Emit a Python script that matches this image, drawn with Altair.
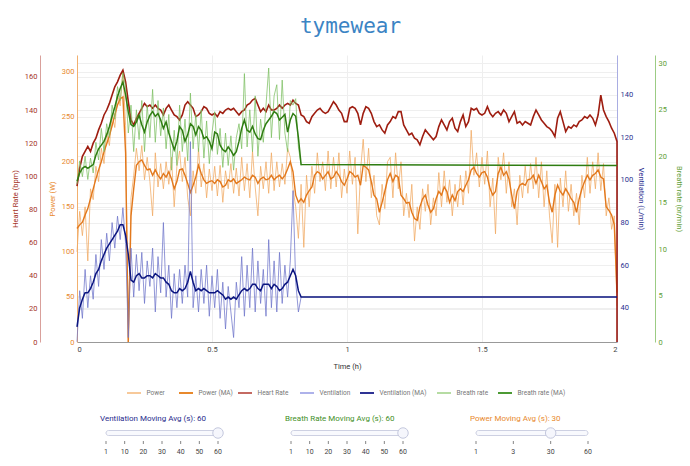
import altair as alt
import pandas as pd

# ---------------- data ----------------
T = [round(i * 0.01, 2) for i in range(201)]  # time grid in hours

power_raw = [100, 145, 118, 150, 90, 170, 158, 195, 178, 215,
             198, 232, 218, 252, 238, 275, 262, 302, 240, 0,
             160, 185, 215, 190, 218, 180, 205, 178, 140, 210,
             172, 198, 170, 200, 175, 205, 150, 195, 212, 178,
             205, 160, 140, 190, 165, 215, 172, 198, 160, 192,
             168, 195, 162, 196, 155, 190, 170, 198, 165, 193,
             162, 205, 168, 198, 160, 212, 172, 140, 195, 170,
             200, 165, 210, 168, 200, 172, 198, 175, 215, 205,
             170, 150, 115, 175, 105, 185, 150, 195, 165, 210,
             178, 200, 168, 212, 170, 205, 172, 210, 160, 192,
             165, 212, 175, 205, 120, 190, 225, 178, 215, 160,
             185, 140, 130, 175, 148, 200, 205, 160, 210, 170,
             200, 140, 165, 138, 175, 112, 150, 125, 170, 145,
             175, 130, 160, 140, 188, 150, 190, 155, 180, 140,
             175, 150, 185, 152, 190, 165, 235, 185, 210, 172,
             205, 175, 212, 150, 182, 120, 205, 180, 210, 165,
             200, 150, 170, 130, 185, 160, 195, 165, 198, 170,
             205, 160, 200, 150, 190, 140, 110, 175, 105, 182,
             150, 190, 145, 175, 140, 165, 130, 185, 160, 205,
             165, 200, 170, 210, 168, 198, 140, 160, 125, 140,
             40]

power_ma = [126, 130, 133, 141, 148, 159, 170, 181, 191, 200,
            211, 220, 229, 240, 252, 263, 270, 272, 210, 0,
            140, 170, 196, 200, 202, 196, 191, 192, 185, 191,
            185, 181, 187, 183, 189, 181, 170, 178, 191, 192,
            185, 176, 166, 174, 183, 196, 187, 180, 176, 178,
            179, 176, 180, 178, 172, 174, 180, 178, 181, 176,
            178, 180, 183, 181, 180, 185, 183, 176, 181, 183,
            180, 181, 185, 180, 183, 185, 181, 185, 192, 200,
            189, 163, 155, 159, 155, 163, 168, 172, 185, 189,
            187, 181, 185, 189, 181, 183, 189, 185, 178, 174,
            181, 189, 187, 183, 185, 174, 196, 194, 191, 178,
            163, 159, 144, 155, 167, 180, 187, 178, 185, 183,
            163, 159, 154, 155, 144, 137, 135, 150, 159, 163,
            152, 144, 148, 159, 167, 163, 172, 167, 155, 163,
            157, 167, 170, 167, 174, 180, 191, 194, 187, 183,
            188, 189, 183, 170, 163, 167, 187, 194, 185, 189,
            181, 163, 148, 167, 174, 176, 174, 180, 181, 185,
            176, 185, 178, 170, 174, 155, 144, 163, 174, 167,
            163, 170, 165, 159, 155, 144, 159, 170, 178, 185,
            180, 185, 187, 191, 183, 181, 150, 146, 141, 130,
            55]

heart_rate = [94, 105, 112, 115, 118, 115, 120, 123, 128, 132,
              137, 140, 144, 149, 154, 157, 161, 164, 157, 145,
              134, 131, 135, 138, 141, 144, 142, 143, 141, 143,
              141, 140, 137, 141, 143, 140, 137, 136, 134, 137,
              143, 145, 143, 141, 136, 137, 139, 142, 141, 138,
              137, 138, 136, 139, 138, 140, 141, 140, 141, 139,
              137, 139, 140, 143, 144, 146, 147, 143, 139, 141,
              139, 143, 140, 140, 141, 143, 141, 143, 144, 143,
              146, 144, 143, 137, 136, 133, 132, 136, 138, 140,
              141, 139, 138, 139, 142, 145, 143, 140, 138, 133,
              133, 141, 142, 141, 138, 131, 138, 142, 141, 138,
              133, 130, 131, 128, 126, 131, 133, 136, 135, 139,
              139, 131, 128, 125, 126, 123, 122, 119, 124, 128,
              126, 124, 122, 124, 130, 134, 131, 128, 133, 135,
              129, 127, 133, 137, 130, 133, 141, 140, 141, 138,
              137, 138, 142, 138, 136, 138, 139, 137, 140, 138,
              133, 136, 139, 132, 133, 131, 133, 132, 131, 136,
              140, 137, 134, 132, 130, 129, 127, 124, 135, 139,
              133, 127, 130, 129, 131, 130, 133, 134, 136, 135,
              137, 135, 131, 137, 149, 140, 136, 133, 129, 126,
              121, 0]

vent_raw = [24, 48, 35, 58, 40, 55, 44, 65, 50, 72,
            58, 75, 62, 80, 68, 83, 72, 87, 70, 26,
            68, 45, 65, 48, 66, 42, 62, 50, 68, 38,
            64, 47, 80, 45, 60, 35, 56, 40, 58, 42,
            60, 45, 118, 40, 55, 38, 58, 42, 60, 36,
            55, 40, 58, 35, 52, 30, 50, 38, 26, 52,
            40, 64, 36, 60, 40, 68, 38, 62, 42, 58,
            36, 72, 40, 62, 38, 66, 42, 60, 45, 62,
            95, 52, 38, 45]

vent_ma = [31, 40, 44, 47, 47, 49, 52, 56, 58, 62,
           65, 68, 70, 72, 74, 76, 79, 79, 74, 65,
           53, 52, 55, 56, 54, 54, 55, 55, 54, 56,
           55, 54, 54, 52, 51, 48, 47, 47, 49, 48,
           49, 52, 57, 52, 48, 49, 48, 49, 48, 47,
           47, 47, 48, 47, 46, 44, 45, 44, 45, 44,
           46, 48, 49, 48, 49, 51, 51, 49, 48, 51,
           51, 51, 49, 51, 50, 48, 49, 51, 52, 55,
           58, 55, 48, 45, 45]

breath_raw = [17.0, 19.5, 17.8, 20.0, 17.5, 19.8, 18.2, 21.5, 19.6, 23.0,
              20.5, 23.5, 22.0, 25.5, 24.0, 27.5, 26.0, 29.0, 27.5, 22.5,
              25.5, 20.5, 25.0, 21.8, 26.0, 20.5, 25.5, 22.0, 27.2, 21.5,
              26.0, 22.2, 25.2, 20.8, 24.5, 18.5, 22.8, 19.0, 25.5, 20.5,
              24.0, 19.5, 26.8, 20.8, 24.5, 20.5, 25.0, 19.8, 23.8, 19.2,
              22.5, 24.8, 20.2, 23.0, 18.8, 22.5, 19.0, 22.2, 18.5, 22.0,
              23.5, 20.8, 28.9, 21.0, 25.0, 20.5, 26.5, 20.0, 24.0, 21.5,
              25.5, 29.5, 22.0, 26.5, 27.7, 21.8, 28.2, 22.5, 20.5, 26.0,
              25.5, 26.2, 21.0, 19.0]

breath_ma = [17.3, 18.2, 18.7, 18.9, 18.7, 18.9, 19.1, 20.1, 20.8, 21.2,
             21.6, 22.3, 23.2, 24.3, 25.3, 26.4, 27.3, 28.0, 26.6, 24.8,
             23.4, 23.2, 23.7, 24.4, 23.4, 22.6, 23.7, 24.4, 24.8, 24.3,
             24.6, 23.9, 23.0, 23.7, 22.5, 21.6, 20.7, 21.6, 23.2, 22.8,
             21.6, 22.3, 23.5, 23.2, 22.3, 23.2, 22.8, 21.9, 22.1, 21.6,
             20.8, 22.6, 22.4, 21.2, 20.7, 20.5, 21.0, 20.6, 20.1, 20.5,
             21.6, 23.0, 23.9, 22.8, 22.6, 23.2, 22.4, 21.9, 21.8, 22.8,
             23.5, 23.9, 24.3, 24.8, 24.6, 23.9, 24.2, 24.5, 22.6, 23.9,
             24.6, 24.3, 22.0, 19.1, 19.0]

legend_names = ["Power", "Power (MA)", "Heart Rate", "Ventilation",
                "Ventilation (MA)", "Breath rate", "Breath rate (MA)"]
legend_colors = ["#f7c99a", "#e8892c", "#c46a62", "#aeb2ea",
                 "#2e3294", "#b6dca3", "#4c9a34"]

power_ticks = [0, 50, 100, 150, 200, 250, 300]
hr_ticks = [0, 20, 40, 60, 80, 100, 120, 140, 160]
vent_ticks = [40, 60, 80, 100, 120, 140]
breath_ticks = [0, 5, 10, 15, 20, 25, 30]
time_ticks = [0, 0.5, 1, 1.5, 2]

slider_titles = ["Ventilation Moving Avg (s): 60", "Breath Rate Moving Avg (s): 60",
                 "Power Moving Avg (s): 30"]
slider_ticks = [["1", "10", "20", "30", "40", "50", "60"],
                ["1", "10", "20", "30", "40", "50", "60"],
                ["1", "3", "30", "60"]]
slider_values = ["60", "60", "30"]

# ---------------- layout constants (pixels, relative to plot area) ----------------
LEGEND_SYM_X = [50, 102, 161, 223, 283, 360, 421]
LEGEND_Y = 338
SLIDER_X0 = [29, 214, 399]
TRACK = 112

# ---------------- build tables ----------------
df_power = pd.DataFrame({"t": T, "raw": power_raw, "ma": power_ma})
df_hr = pd.DataFrame({"t": T + [2.0], "hr": heart_rate})
n_v = len(vent_raw)
df_vraw = pd.DataFrame({"t": T[:n_v], "v": vent_raw})
df_vma = pd.DataFrame({"t": T[:n_v] + [2.0], "v": vent_ma})
df_braw = pd.DataFrame({"t": T[:n_v], "b": breath_raw})
df_bma = pd.DataFrame({"t": T[:n_v] + [2.0], "b": breath_ma})

FONT = "Roboto"
W, H = 540, 287
xs = alt.Scale(domain=[0, 2], nice=False, zero=False)


def xenc(show=False):
    if show:
        return alt.X("t:Q", scale=xs, axis=alt.Axis(
            values=time_ticks, format="~g", title="Time (h)", ticks=False,
            labelFontSize=7.5, labelColor="#444", labelPadding=3, labelFont=FONT,
            titleFont=FONT, titleFontSize=7.5, titleFontWeight="normal",
            titleColor="#333", titlePadding=10, domainColor="#999",
            grid=True, gridColor="#eeeeee"))
    return alt.X("t:Q", scale=xs, axis=None)


def yenc(field, domain, axis=None):
    return alt.Y(f"{field}:Q", scale=alt.Scale(domain=domain, nice=False, zero=False),
                 axis=axis)


def yaxis(orient, offset, color, dcolor, title, values, tpad):
    return alt.Axis(orient=orient, offset=offset, values=values, title=title,
                    ticks=False, labelColor=color, titleColor=color,
                    domainColor=dcolor, labelFontSize=7.5, titleFontSize=7.5,
                    titleFontWeight="normal", labelPadding=3, titlePadding=tpad,
                    labelFont=FONT, titleFont=FONT, grid=True,
                    gridColor="#efefef", labelFlush=False)


P_DOM = [0, 318.5]
HR_DOM = [0, 173.2]
V_DOM = [23.9, 158.7]
B_DOM = [0, 30.9]

layers = []
layers.append(alt.Chart(df_power).mark_line(color="#f0a860", opacity=0.75, strokeWidth=1).encode(
    x=xenc(True),
    y=yenc("raw", P_DOM, yaxis("left", 0, "#e8892c", "#f2b06e", "Power (W)", power_ticks, 5))))
layers.append(alt.Chart(df_power).mark_line(color="#e2781c", strokeWidth=1.4).encode(
    x=xenc(), y=yenc("ma", P_DOM)))
layers.append(alt.Chart(df_hr).mark_line(color="#9e1d10", strokeWidth=1.6).encode(
    x=xenc(),
    y=yenc("hr", HR_DOM, yaxis("left", 37, "#a53326", "#d9a09b", "Heart Rate (bpm)", hr_ticks, 5))))
layers.append(alt.Chart(df_vraw).mark_line(color="#6e74c9", opacity=0.75, strokeWidth=1).encode(
    x=xenc(),
    y=yenc("v", V_DOM, yaxis("right", 0, "#2a2f8f", "#a9ade2", "Ventilation (L/min)", vent_ticks, 4))))
layers.append(alt.Chart(df_vma).mark_line(color="#0b1580", strokeWidth=1.5).encode(
    x=xenc(), y=yenc("v", V_DOM)))
layers.append(alt.Chart(df_braw).mark_line(color="#7cbf62", opacity=0.75, strokeWidth=1).encode(
    x=xenc(),
    y=yenc("b", B_DOM, yaxis("right", 38, "#5e9e35", "#9ccc84", "Breath rate (br/min)", breath_ticks, 8))))
layers.append(alt.Chart(df_bma).mark_line(color="#2f7d12", strokeWidth=1.5).encode(
    x=xenc(), y=yenc("b", B_DOM)))

one = pd.DataFrame({"k": [0]})

# legend (drawn as marks)
for name, col, sx in zip(legend_names, legend_colors, LEGEND_SYM_X):
    layers.append(alt.Chart(one).mark_rule(color=col, strokeWidth=2).encode(
        x=alt.value(sx), x2=alt.value(sx + 14), y=alt.value(LEGEND_Y)))
    layers.append(alt.Chart(one).mark_text(
        text=name, font=FONT, fontSize=6.5, color="#777", align="left",
        baseline="middle").encode(x=alt.value(sx + 19.5), y=alt.value(LEGEND_Y)))

# title
layers.append(alt.Chart(one).mark_text(
    text="tymewear", font="DejaVu Sans Mono", fontSize=21, color="#3b84c4",
    align="center", baseline="alphabetic").encode(x=alt.value(273.5), y=alt.value(-21.7)))

# sliders
slider_colors = ["#1f2a8c", "#3f8f1f", "#e8892c"]
tick_rows = []
for s in range(3):
    x0 = SLIDER_X0[s]
    ticks = slider_ticks[s]
    n = len(ticks)
    for i, lab in enumerate(ticks):
        tick_rows.append({"px": x0 + TRACK * i / (n - 1), "lab": lab})
    layers.append(alt.Chart(one).mark_text(
        text=slider_titles[s], font=FONT, fontSize=8, color=slider_colors[s],
        align="left", baseline="alphabetic").encode(x=alt.value(x0 - 6), y=alt.value(366)))
    layers.append(alt.Chart(one).mark_rect(
        cornerRadius=2.5, fill="#f8f9fd", stroke="#cdd0e2", strokeWidth=1).encode(
        x=alt.value(x0), x2=alt.value(x0 + TRACK), y=alt.value(375.5), y2=alt.value(380.5)))
    hx = x0 + TRACK * ticks.index(slider_values[s]) / (n - 1)
    layers.append(alt.Chart(one).mark_point(
        shape="circle", filled=True, size=110, fill="#f5f6fc", stroke="#c5c9de",
        strokeWidth=1, opacity=1).encode(x=alt.value(hx), y=alt.value(378)))

ticks_df = pd.DataFrame(tick_rows)
layers.append(alt.Chart(ticks_df).mark_rule(color="#666", strokeWidth=0.8).encode(
    x=alt.X("px:Q", scale=None, axis=None), y=alt.value(386), y2=alt.value(389)))
layers.append(alt.Chart(ticks_df).mark_text(
    font=FONT, fontSize=7, color="#444", baseline="alphabetic").encode(
    x=alt.X("px:Q", scale=None, axis=None), y=alt.value(399), text="lab:N"))

chart = alt.layer(*layers).resolve_scale(
    x="independent", y="independent"
).properties(
    width=W, height=H,
    padding={"left": 77, "top": 55, "right": 73, "bottom": 124},
    autosize=alt.AutoSizeParams(type="none"),
    background="white",
).configure_view(stroke=None)

chart.save("out.html", embed_options={"renderer": "svg", "actions": False})
